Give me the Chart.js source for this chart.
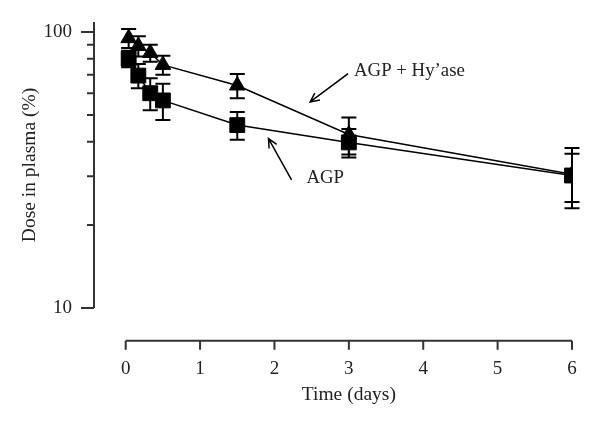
<!DOCTYPE html>
<html>
<head>
<meta charset="utf-8">
<script src="https://cdn.jsdelivr.net/npm/chart.js@4.4.0/dist/chart.umd.min.js"></script>
<style>
html, body { margin: 0; padding: 0; background: #fff; }
#wrap { width: 600px; height: 426px; }
</style>
</head>
<body>
<div id="wrap"><canvas id="myChart" width="600" height="426"></canvas></div>
<script>
// time points (days) and plasma dose (%), mean and error
const days = [0.04, 0.17, 0.33, 0.5, 1.5, 3, 6]
const agp = [80, 69.5, 60, 56.5, 46, 39.8, 30.2]
const agpErr = [5.5, 7, 8, 8.5, 5.3, 4.7, 6]
const agpHy = [95, 89, 84, 76, 64, 42.5, 30.5]
const agpHyErr = [7.5, 7.5, 6, 6, 6.5, 6.5, 7.5]

const xTicks = [0, 1, 2, 3, 4, 5, 6]
const yTicks = [10, 20, 30, 40, 50, 60, 70, 80, 90, 100]
const yLabels = [10, 100]

const serif = '"Liberation Serif", "Times New Roman", serif'
const textColor = '#222'
const axisColor = '#333'

// axis lines + tick marks, only over the data range like the original figure
const axesLines = {
    id: 'axesLines',
    afterDraw(chart) {
        const {ctx, chartArea, scales: {x, y}} = chart
        ctx.save()
        ctx.strokeStyle = axisColor
        ctx.lineWidth = 2
        ctx.beginPath()
        // y axis
        const yl = chartArea.left
        ctx.moveTo(yl, chartArea.top)
        ctx.lineTo(yl, y.getPixelForValue(yTicks[0]))
        yTicks.forEach(v => {
            const py = y.getPixelForValue(v)
            const len = yLabels.includes(v) ? 13 : 7
            ctx.moveTo(yl - len, py)
            ctx.lineTo(yl, py)
        })
        // x axis
        const xb = chartArea.bottom
        ctx.moveTo(x.getPixelForValue(xTicks[0]), xb)
        ctx.lineTo(x.getPixelForValue(xTicks[xTicks.length - 1]), xb)
        xTicks.forEach(v => {
            const px = x.getPixelForValue(v)
            ctx.moveTo(px, xb)
            ctx.lineTo(px, xb + 9)
        })
        ctx.stroke()

        // axis titles
        ctx.fillStyle = textColor
        ctx.font = '19.5px ' + serif
        ctx.textAlign = 'center'
        ctx.textBaseline = 'middle'
        const midX = (x.getPixelForValue(xTicks[0]) + x.getPixelForValue(xTicks[xTicks.length - 1])) / 2
        ctx.fillText('Time (days)', midX, 395)
        const midY = (chartArea.top + y.getPixelForValue(yTicks[0])) / 2
        ctx.translate(30, midY)
        ctx.rotate(-Math.PI / 2)
        ctx.fillText('Dose in plasma (%)', 0, 0)
        ctx.restore()
    }
}

const errorBars = {
    id: 'errorBars',
    afterDatasetsDraw(chart) {
        const {ctx, scales: {x, y}} = chart
        ctx.save()
        ctx.strokeStyle = '#000'
        ctx.lineWidth = 2
        chart.data.datasets.forEach(ds => {
            ds.data.forEach((p, i) => {
                const px = x.getPixelForValue(p.x)
                const top = y.getPixelForValue(p.y + ds.errors[i])
                const bot = y.getPixelForValue(p.y - ds.errors[i])
                ctx.beginPath()
                ctx.moveTo(px, top)
                ctx.lineTo(px, bot)
                ctx.moveTo(px - 7.5, top)
                ctx.lineTo(px + 7.5, top)
                ctx.moveTo(px - 7.5, bot)
                ctx.lineTo(px + 7.5, bot)
                ctx.stroke()
            })
        })
        ctx.restore()
    }
}

// text labels with arrows, anchored in data coordinates
const notes = [
    {text: 'AGP + Hy’ase', at: [3.07, 72.2], tail: [2.99, 70.7], head: [2.48, 55.8]},
    {text: 'AGP', at: [2.43, 29.5], tail: [2.23, 29.1], head: [1.92, 41.1]}
]

const annotations = {
    id: 'annotations',
    afterDraw(chart) {
        const {ctx, scales: {x, y}} = chart
        ctx.save()
        ctx.strokeStyle = '#000'
        ctx.fillStyle = textColor
        ctx.lineWidth = 1.5
        ctx.font = '18.8px ' + serif
        ctx.textAlign = 'left'
        ctx.textBaseline = 'middle'
        notes.forEach(n => {
            ctx.fillText(n.text, x.getPixelForValue(n.at[0]), y.getPixelForValue(n.at[1]))
            const tx = x.getPixelForValue(n.tail[0]), ty = y.getPixelForValue(n.tail[1])
            const hx = x.getPixelForValue(n.head[0]), hy = y.getPixelForValue(n.head[1])
            const a = Math.atan2(hy - ty, hx - tx)
            ctx.beginPath()
            ctx.moveTo(tx, ty)
            ctx.lineTo(hx, hy)
            ctx.moveTo(hx - 10 * Math.cos(a - 0.45), hy - 10 * Math.sin(a - 0.45))
            ctx.lineTo(hx, hy)
            ctx.lineTo(hx - 10 * Math.cos(a + 0.45), hy - 10 * Math.sin(a + 0.45))
            ctx.stroke()
        })
        ctx.restore()
    }
}

const toPoints = vals => days.map((d, i) => ({x: d, y: vals[i]}))

new Chart(document.getElementById('myChart'), {
    type: 'line',
    data: {
        datasets: [{
            label: 'AGP + Hy’ase',
            data: toPoints(agpHy),
            errors: agpHyErr,
            borderColor: '#000',
            borderWidth: 1.5,
            backgroundColor: '#000',
            pointStyle: 'triangle',
            pointRadius: 9,
            pointBackgroundColor: '#000',
            pointBorderColor: '#000',
            pointBorderWidth: 1
        }, {
            label: 'AGP',
            data: toPoints(agp),
            errors: agpErr,
            borderColor: '#000',
            borderWidth: 1.5,
            backgroundColor: '#000',
            pointStyle: 'rect',
            pointRadius: 10.5,
            pointBackgroundColor: '#000',
            pointBorderColor: '#000',
            pointBorderWidth: 1
        }]
    },
    options: {
        responsive: false,
        animation: false,
        layout: {padding: {top: 22, right: 28, left: 0, bottom: 0}},
        plugins: {
            legend: {display: false},
            tooltip: {enabled: false}
        },
        scales: {
            x: {
                type: 'linear',
                min: -0.426,
                max: 6,
                afterBuildTicks: s => { s.ticks = xTicks.map(v => ({value: v})) },
                afterFit: s => { s.height = 85.3 },
                grid: {display: false, drawTicks: false},
                border: {display: false},
                ticks: {
                    padding: 17,
                    color: textColor,
                    font: {family: serif, size: 19}
                }
            },
            y: {
                type: 'logarithmic',
                min: 7.61,
                max: 108.7,
                afterBuildTicks: s => { s.ticks = yTicks.map(v => ({value: v})) },
                afterFit: s => { s.width = 94 },
                // label gap comes from an invisible tick length, so it does not pad the chart top
                grid: {display: false, drawTicks: true, tickLength: 22},
                border: {display: false},
                ticks: {
                    padding: 0,
                    color: textColor,
                    font: {family: serif, size: 19},
                    callback: v => yLabels.includes(v) ? String(v) : ''
                }
            }
        }
    },
    plugins: [axesLines, errorBars, annotations]
})
</script>
</body>
</html>
